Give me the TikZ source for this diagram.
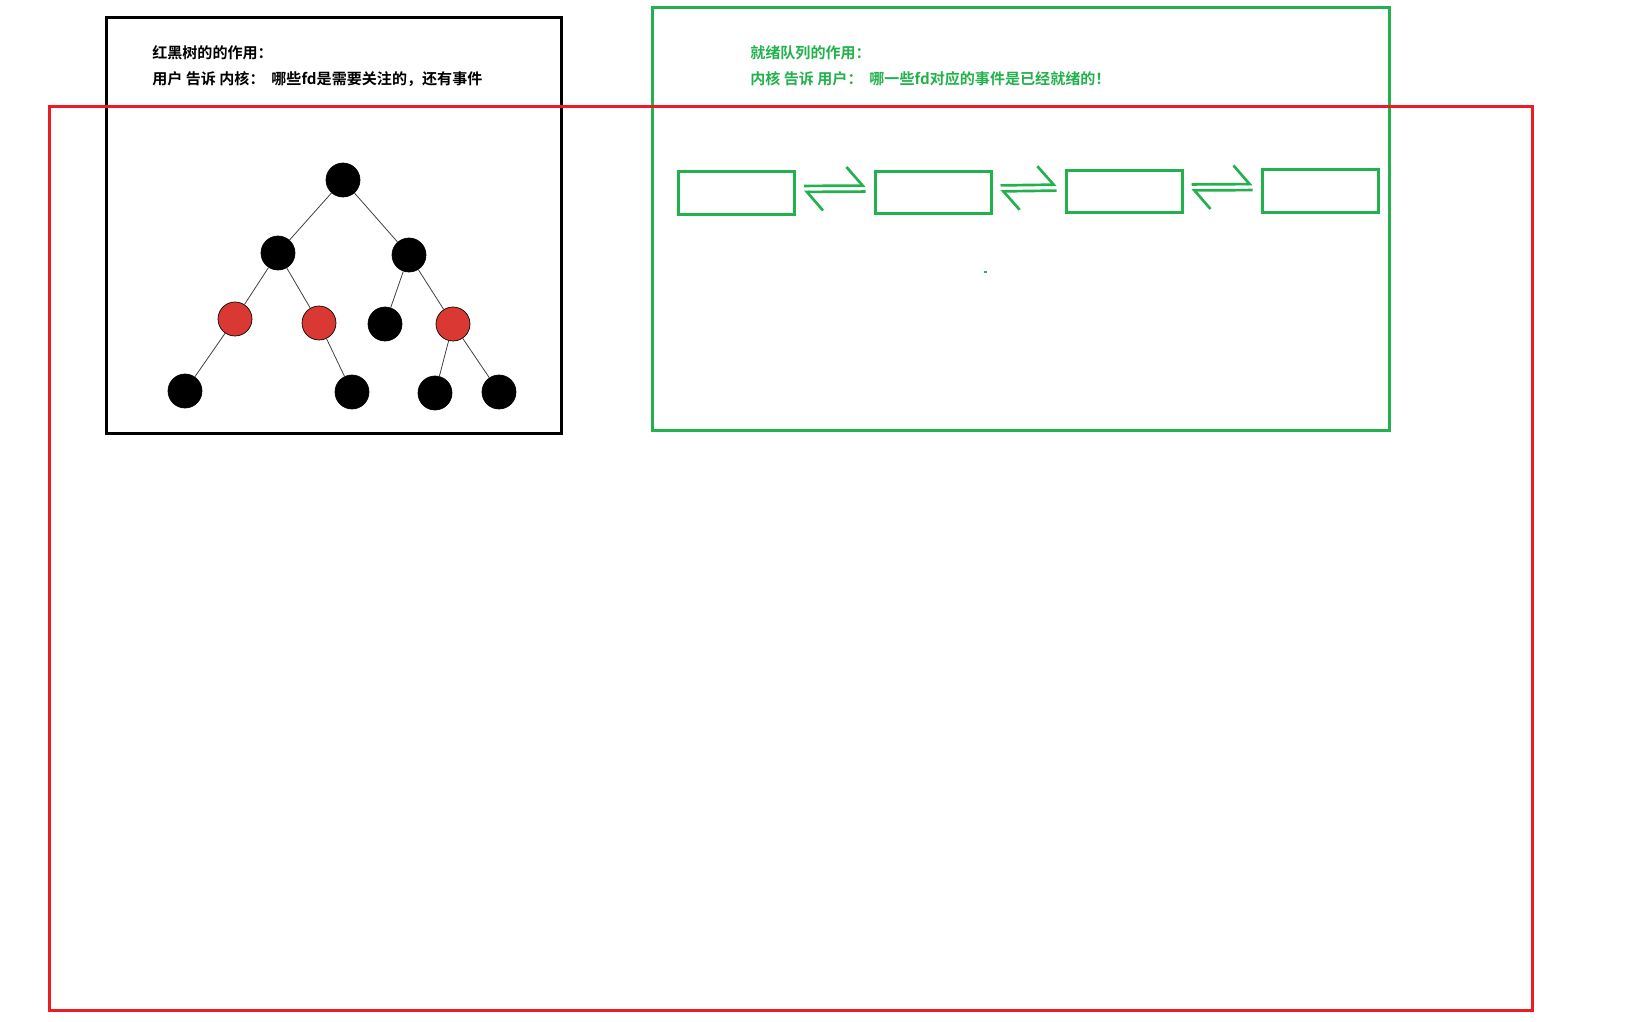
\documentclass[tikz,border=0pt]{standalone}
\usepackage{fontspec}
\newfontfamily\cjk{Noto Sans CJK SC}[BoldFont={Noto Sans CJK SC Bold}]
\usetikzlibrary{arrows.meta,calc}
\definecolor{paintgreen}{RGB}{34,177,76}
\definecolor{paintred}{RGB}{237,28,36}
\definecolor{nodered}{RGB}{218,56,50}

\begin{document}
\begin{tikzpicture}[x=0.75pt,y=0.75pt,yscale=-1,xscale=1,
  blk/.style={circle,fill=black,draw=black,line width=0.5pt,minimum size=25.5pt,inner sep=0pt},
  rd/.style={blk,fill=nodered},
  edge/.style={draw=black!75,line width=0.6pt},
  qbox/.style={draw=paintgreen,line width=2.25pt,minimum width=87pt,minimum height=32pt,inner sep=0pt},
  harp/.style={draw=paintgreen,line width=2pt,-{Straight Barb[left,length=12pt,width=28pt]},shorten >=6pt,shorten <=6pt},
  lbl/.style={anchor=west,inner sep=0pt,font=\cjk\bfseries\fontsize{11.3}{13}\selectfont}]
\useasboundingbox (0,0) rectangle (1635,1021);

%Frames
\draw [line width=2.25pt] (106,17) rectangle (561,433);
\draw [paintgreen,line width=2.25pt] (652,7) rectangle (1389,430);
\draw [paintred,line width=2.25pt] (49,106) rectangle (1532,1010);

% Text Node
\node [lbl] (rbt) at (152,53) {红黑树的的作用：};
% Text Node
\node [lbl] (rbtuse) at (152,79) {用户 告诉 内核：\ \ 哪些fd是需要关注的，还有事件};
% Text Node
\node [lbl,text=paintgreen] (rdy) at (750,53) {就绪队列的作用：};
% Text Node
\node [lbl,text=paintgreen] (rdyuse) at (750,79) {内核 告诉 用户：\ \ 哪一些fd对应的事件是已经就绪的！};

%Red-black tree
\node [blk] (root) at (343,180) {};
\node [blk] (l) at (278,253) {};
\node [blk] (r) at (409,255) {};
\node [rd] (ll) at (235,319) {};
\node [rd] (lr) at (319,323) {};
\node [blk] (rl) at (385,324) {};
\node [rd] (rr) at (453,324) {};
\node [blk] (lll) at (185,391) {};
\node [blk] (lrr) at (352,392) {};
\node [blk] (rrl) at (435,393) {};
\node [blk] (rrr) at (499,392) {};
\foreach \a/\b in {root/l,root/r,l/ll,l/lr,r/rl,r/rr,ll/lll,lr/lrr,rr/rrl,rr/rrr}
  \draw [edge] (\a) -- (\b);

%Ready queue
\node [qbox] (q1) at (736.5,193) {};
\node [qbox] (q2) at (933,192.5) {};
\node [qbox] (q3) at (1124,191.5) {};
\node [qbox] (q4) at (1320,191) {};
\foreach \a/\b in {q1/q2,q2/q3,q3/q4}{
  \draw [harp] ($(\a.east)+(0,-7)$) -- ($(\b.west)+(0,-7)$);
  \draw [harp] ($(\b.west)+(0,-1)$) -- ($(\a.east)+(0,-1)$);
}
\fill [paintgreen] (984,271) rectangle (987,273);

\end{tikzpicture}
\end{document}
